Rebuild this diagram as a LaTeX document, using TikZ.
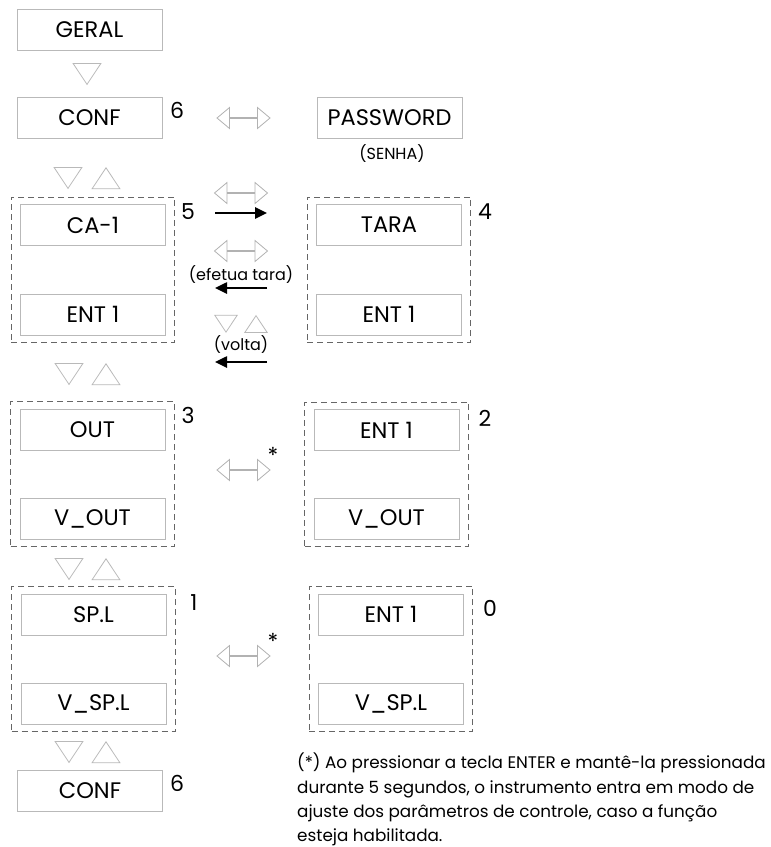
\documentclass[tikz,border=0pt]{standalone}
\usepackage{fontspec}
\setmainfont{Poppins}
\usetikzlibrary{shapes.geometric,shapes.arrows,fit,arrows.meta}
\begin{document}
\begin{tikzpicture}[x=1pt, y=-1pt,
  lcd/.style={draw=gray!55, line width=0.8pt, minimum width=145pt,
              minimum height=41pt, inner sep=0pt,
              font=\fontsize{22.5}{24}\selectfont},
  grp/.style={draw=gray!80!black, line width=1pt,
              dash pattern=on 6pt off 4pt, inner xsep=9pt, inner ysep=7pt},
  num/.style={font=\fontsize{22}{24}\selectfont, inner sep=0pt},
  small/.style={font=\fontsize{16}{18}\selectfont, inner sep=0pt},
  up/.style={draw=gray!55, line width=0.8pt, regular polygon,
             regular polygon sides=3, minimum size=28pt, inner sep=0pt,
             xscale=1.15, anchor=north},
  dn/.style={up, shape border rotate=180},
  swap/.style={draw=gray!60, line width=0.8pt, fill=white, double arrow,
               double arrow head extend=7pt, double arrow tip angle=80,
               minimum width=21pt, minimum height=53pt, inner sep=0pt},
  key/.style={line width=2.5pt, -{Triangle[length=12pt, width=11pt]}}]
  \useasboundingbox (0,0) rectangle (771,847);

  % left column
  \node (geral) [lcd] at (89.5,29.5)  {GERAL};
  \node (t0)    [dn]  at (87,63)      {};
  \node (conf)  [lcd] at (89.5,118)   {CONF};
  \node (l6)    [num] at (177,110)    {6};
  \node (t1d)   [dn]  at (68,167)     {};
  \node (t1u)   [up]  at (106,167)    {};
  \node (ca1)   [lcd] at (93,225)     {CA-1};
  \node (ent1a) [lcd] at (93,314.5)   {ENT 1};
  \node (g5)    [grp, fit=(ca1) (ent1a)] {};
  \node (l5)    [num] at (188,212)    {5};
  \node (t2d)   [dn]  at (69,363)     {};
  \node (t2u)   [up]  at (106,363)    {};
  \node (out)   [lcd] at (92.5,429.5) {OUT};
  \node (vout)  [lcd] at (92.5,518.5) {V\_OUT};
  \node (g3)    [grp, fit=(out) (vout)] {};
  \node (l3)    [num] at (188,415)    {3};
  \node (t3d)   [dn]  at (69,558)     {};
  \node (t3u)   [up]  at (106,558)    {};
  \node (spl)   [lcd] at (93.5,614.5) {SP.L};
  \node (vspl)  [lcd] at (93.5,703.5) {V\_SP.L};
  \node (g1)    [grp, fit=(spl) (vspl)] {};
  \node (l1)    [num] at (194,603)    {1};
  \node (t4d)   [dn]  at (69,741)     {};
  \node (t4u)   [up]  at (106,741)    {};
  \node (conf2) [lcd] at (90,791)     {CONF};
  \node (l6b)   [num] at (177,783)    {6};

  % right column
  \node (pwd)   [lcd] at (389.5,117.5) {PASSWORD};
  \node (senha) [small] at (392,154)   {(SENHA)};
  \node (tara)  [lcd] at (389,225)     {TARA};
  \node (ent1b) [lcd] at (389,314.5)   {ENT 1};
  \node (g4)    [grp, fit=(tara) (ent1b)] {};
  \node (l4)    [num] at (485,212)     {4};
  \node (ent1c) [lcd] at (386.5,430)   {ENT 1};
  \node (vout2) [lcd] at (386.5,518.5) {V\_OUT};
  \node (g2)    [grp, fit=(ent1c) (vout2)] {};
  \node (l2)    [num] at (485,418)     {2};
  \node (ent1d) [lcd] at (391,614.5)   {ENT 1};
  \node (vspl2) [lcd] at (391,703.5)   {V\_SP.L};
  \node (g0)    [grp, fit=(ent1d) (vspl2)] {};
  \node (l0)    [num] at (490,608)     {0};

  % keys between the columns
  \node (hx1)  [swap] at (243.5,118) {};
  \node (hx2)  [swap] at (241,193)   {};
  \node (hx3)  [swap] at (241,251)   {};
  \node (tara1) [small] at (241,275) {(efetua tara)};
  \node (tvd)  [dn, scale=0.8] at (226,315) {};
  \node (tvu)  [up, scale=0.8] at (256,315) {};
  \node (volta) [small] at (241,345) {(volta)};
  \node (hx4)  [swap] at (243.5,470) {};
  \node (st4)  [num] at (273,455)    {*};
  \node (hx5)  [swap] at (243.5,656) {};
  \node (st5)  [num] at (273,641)    {*};

  \coordinate (k1a) at (215,213);
  \coordinate (k1b) at (267,213);
  \coordinate (k2a) at (267,288);
  \coordinate (k2b) at (215,288);
  \coordinate (k3a) at (267,362);
  \coordinate (k3b) at (215,362);
  \draw[key] (k1a) -- (k1b);
  \draw[key] (k2a) -- (k2b);
  \draw[key] (k3a) -- (k3b);

  % footnote
  \node (note) [anchor=north west, inner sep=0pt, align=left,
                font=\fontsize{16.8}{24.3}\selectfont] at (297,753)
    {(*) Ao pressionar a tecla ENTER e mantê-la pressionada\\
     durante 5 segundos, o instrumento entra em modo de\\
     ajuste dos parâmetros de controle, caso a função\\
     esteja habilitada.};
\end{tikzpicture}
\end{document}
